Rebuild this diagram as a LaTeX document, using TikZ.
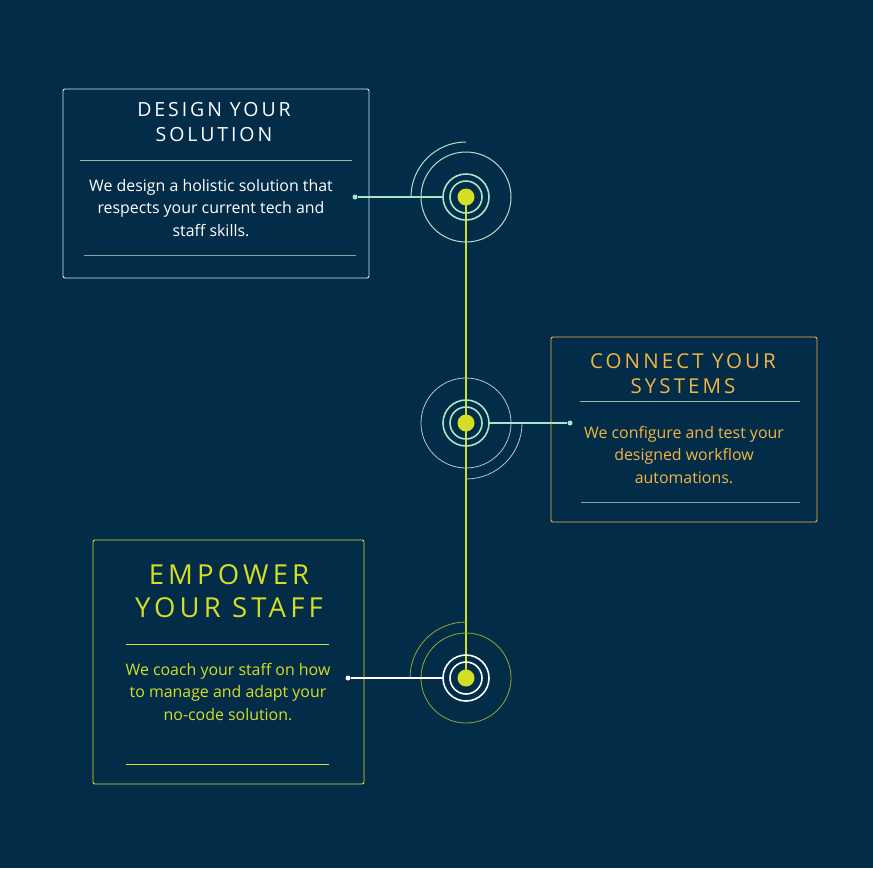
\documentclass[tikz,border=0pt]{standalone}
\usepackage{fontspec}
\setmainfont{Open Sans}
\newfontfamily\spaced[LetterSpace=15]{Open Sans}
\definecolor{bg}{HTML}{022C48}
\definecolor{mint}{HTML}{A8E6C8}
\definecolor{lime}{HTML}{D4DE25}
\definecolor{orng}{HTML}{F2B444}
\definecolor{grayw}{HTML}{B8C4CC}
\definecolor{boxw}{HTML}{DDE6EA}
\begin{document}
\begin{tikzpicture}[x=1pt,y=-1pt,
  body/.style={align=center,font=\fontsize{15.9}{22.5}\selectfont},
  ttl/.style={align=center,font=\spaced\fontsize{19.5}{25}\selectfont},
  dotc/.style={circle,fill,inner sep=0pt,minimum size=5pt}]
\fill[bg] (0,0) rectangle (873,868);
\useasboundingbox (0,0) rectangle (873,868);
\coordinate (c1) at (466,197);
\coordinate (c2) at (466,423);
\coordinate (c3) at (466,678);
\draw[lime,line width=1.2] (c1) -- (c3);
% circle 1
\draw[mint,line width=1] (c1) circle (45);
\draw[mint,line width=1] (411,197) arc (180:270:55);
\draw[mint,line width=1.6] (c1) circle (16) (c1) circle (23);
\fill[lime] (c1) circle (8.5);
\node[dotc,mint,minimum size=5pt] (d1) at (355,197) {};
\draw[mint,line width=1.2] (d1) -- (443,197);
% circle 2
\draw[grayw,line width=0.8] (c2) circle (45);
\draw[grayw,line width=0.8] (522,423) arc (0:90:56);
\draw[mint,line width=1.6] (c2) circle (16) (c2) circle (23);
\fill[lime] (c2) circle (8.5);
\node[dotc,mint] (d2) at (570,423) {};
\draw[mint,line width=1.2] (489,423) -- (d2);
% circle 3
\draw[lime!70!bg,line width=0.8] (c3) circle (45);
\draw[lime!70!bg,line width=0.8] (410,678) arc (180:270:56);
\draw[white,line width=1.6] (c3) circle (16) (c3) circle (23);
\fill[lime] (c3) circle (8.5);
\node[dotc,white] (d3) at (348,678) {};
\draw[white,line width=1.2] (d3) -- (443,678);
% box 1
\draw[boxw,line width=0.9,rounded corners=2] (63,89) rectangle (369,278);
\node[ttl,white] (t1) at (214,122) {DESIGN YOUR\\SOLUTION};
\draw[mint!80!bg] (80,160) -- (352,160);
\node[body,white] (b1) at (211,208) {We design a holistic solution that\\respects your current tech and\\staff skills.};
\draw[mint!70!bg] (84,255) -- (356,255);
% box 2
\draw[orng,line width=0.9,rounded corners=2] (551,337) rectangle (817,522);
\node[ttl,orng,font=\spaced\fontsize{20.5}{25}\selectfont] (t2) at (683,374) {CONNECT YOUR\\SYSTEMS};
\draw[mint!80!bg] (580,401) -- (800,401);
\node[body,orng] (b2) at (684,455) {We configure and test your\\designed workflow\\automations.};
\draw[mint!70!bg] (581,502) -- (800,502);
% box 3
\draw[lime,line width=0.9,rounded corners=2] (93,540) rectangle (364,784);
\node[ttl,lime,font=\spaced\fontsize{27.5}{33}\selectfont] (t3) at (229,591) {EMPOWER\\YOUR STAFF};
\draw[lime] (126,644) -- (329,644);
\node[body,lime] (b3) at (228,692) {We coach your staff on how\\to manage and adapt your\\no-code solution.};
\draw[lime] (126,764) -- (329,764);
\end{tikzpicture}
\end{document}
